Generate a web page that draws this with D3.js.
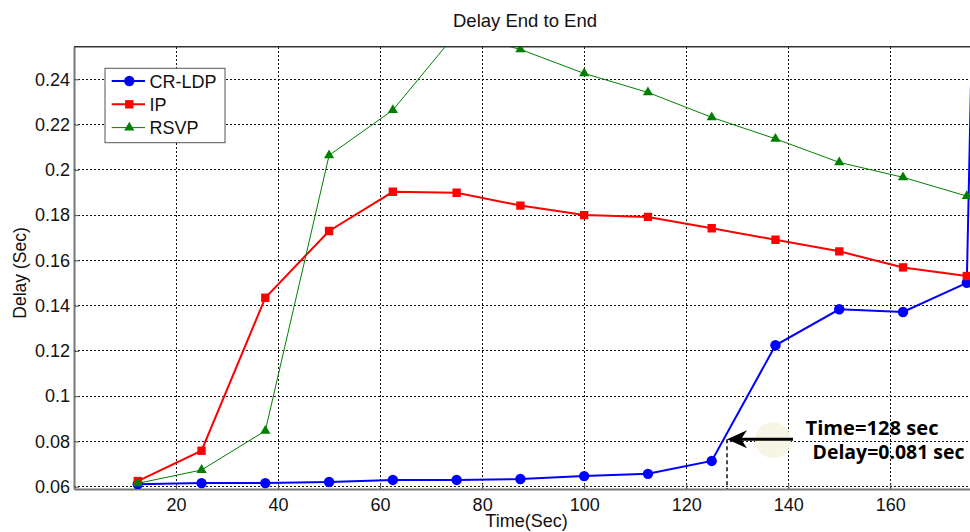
<!DOCTYPE html>
<html>
<head>
<meta charset="utf-8">
<script src="https://cdn.jsdelivr.net/npm/d3@7"></script>
<style>
  body { margin: 0; background: #fff; }
  svg { display: block; font-family: 'Liberation Sans', Arial, sans-serif; }
</style>
</head>
<body>
<div id="chart"></div>
<script>
const times = [12.5, 25, 37.5, 50, 62.5, 75, 87.5, 100, 112.5, 125, 137.5, 150, 162.5, 175]
// CR-LDP has one more sample just past the visible edge
const crldpTimes = times.concat([176.4])
const crldp = [0.0611, 0.0616, 0.0616, 0.0621, 0.063, 0.063, 0.0634, 0.0647, 0.0657, 0.0714, 0.1225, 0.1384, 0.1372, 0.1501, 0.30]
const ip = [0.0625, 0.0759, 0.1435, 0.173, 0.1903, 0.1899, 0.1842, 0.18, 0.1792, 0.1742, 0.1691, 0.164, 0.1569, 0.1531]
const rsvp = [0.0615, 0.0674, 0.0847, 0.2064, 0.2264, 0.2605, 0.2532, 0.2426, 0.2342, 0.2232, 0.2137, 0.2033, 0.1967, 0.1884]
const xTicks = [20, 40, 60, 80, 100, 120, 140, 160]
const yTicks = [0.06, 0.08, 0.1, 0.12, 0.14, 0.16, 0.18, 0.2, 0.22, 0.24]
const seriesNames = ['CR-LDP', 'IP', 'RSVP']
const annotation = { time: 128, delay: 0.081 }

const W = 970, H = 532
const plotLeft = 74, plotRight = 977, plotTop = 46.7, plotBottom = 489

const svg = d3.select('#chart').append('svg').attr('width', W).attr('height', H)

const x = d3.scaleLinear().domain([0, 177]).range([plotLeft, plotRight])
const y = d3.scaleLinear().domain([0.059, 0.2544]).range([plotBottom, plotTop])

svg.append('defs').append('clipPath').attr('id', 'plotclip')
  .append('rect').attr('x', plotLeft).attr('y', plotTop)
  .attr('width', plotRight - plotLeft).attr('height', plotBottom - plotTop)

// grid
const grid = svg.append('g').attr('shape-rendering', 'crispEdges')
grid.selectAll('.gx').data(xTicks).join('line')
  .attr('x1', d => x(d)).attr('x2', d => x(d)).attr('y1', plotTop).attr('y2', plotBottom)
  .attr('stroke', '#111').attr('stroke-width', 1).attr('stroke-dasharray', '2,2')
grid.selectAll('.gy').data(yTicks).join('line')
  .attr('x1', plotLeft).attr('x2', plotRight).attr('y1', d => y(d)).attr('y2', d => y(d))
  .attr('stroke', '#111').attr('stroke-width', 1).attr('stroke-dasharray', '2,2')

// axes
const yAxis = svg.append('g').attr('transform', `translate(${plotLeft},0)`)
  .call(d3.axisLeft(y).tickValues(yTicks).tickFormat(d3.format('')).tickSizeInner(-5).tickSizeOuter(0).tickPadding(4))
const xAxis = svg.append('g').attr('transform', `translate(0,${plotBottom})`)
  .call(d3.axisBottom(x).tickValues(xTicks).tickSizeInner(-5).tickSizeOuter(0).tickPadding(9))
;[yAxis, xAxis].forEach(a => {
  a.select('.domain').attr('stroke', '#777').attr('stroke-width', 2)
  a.selectAll('.tick line').attr('stroke', '#555')
  a.selectAll('.tick text').attr('fill', '#111').style('font-size', '18px')
    .style('font-family', "'Liberation Sans', Arial, sans-serif")
})
svg.append('line').attr('x1', plotLeft).attr('x2', W).attr('y1', plotTop).attr('y2', plotTop)
  .attr('stroke', '#333').attr('stroke-width', 1.5)

// series
const plot = svg.append('g').attr('clip-path', 'url(#plotclip)')
const series = [
  { name: seriesNames[0], t: crldpTimes, v: crldp, color: '#0000ff', width: 2, marker: 'circle' },
  { name: seriesNames[1], t: times, v: ip, color: '#ff0000', width: 2, marker: 'square' },
  { name: seriesNames[2], t: times, v: rsvp, color: '#008000', width: 1, marker: 'triangle' },
]
const line = d3.line().x(d => x(d[0])).y(d => y(d[1]))
const symbolFor = m => m === 'circle' ? d3.symbol(d3.symbolCircle, 85)
  : m === 'square' ? d3.symbol(d3.symbolSquare, 70) : d3.symbol(d3.symbolTriangle, 45)

series.forEach(s => {
  const pts = s.t.map((t, i) => [t, s.v[i]])
  plot.append('path').datum(pts).attr('d', line)
    .attr('fill', 'none').attr('stroke', s.color).attr('stroke-width', s.width)
  plot.selectAll(null).data(pts).join('path')
    .attr('transform', d => `translate(${x(d[0])},${y(d[1])})`)
    .attr('d', symbolFor(s.marker))
    .attr('fill', s.color)
})

// legend
const lg = svg.append('g')
lg.append('rect').attr('x', 105).attr('y', 68.3).attr('width', 120).attr('height', 74.4)
  .attr('fill', '#fff').attr('stroke', '#555').attr('stroke-width', 1)
series.forEach((s, i) => {
  const ly = 81 + i * 23.3
  lg.append('line').attr('x1', 111.7).attr('x2', 145).attr('y1', ly).attr('y2', ly)
    .attr('stroke', s.color).attr('stroke-width', s.width)
  lg.append('path').attr('transform', `translate(129.3,${ly})`).attr('d', symbolFor(s.marker)).attr('fill', s.color)
  lg.append('text').attr('x', 149.5).attr('y', ly + 6.5).text(s.name)
    .style('font-size', '18px').attr('fill', '#111')
})

// titles
svg.append('text').attr('x', 525).attr('y', 27).attr('text-anchor', 'middle')
  .style('font-size', '18.5px').attr('fill', '#111').text('Delay End to End')
svg.append('text').attr('x', 526.5).attr('y', 527).attr('text-anchor', 'middle')
  .style('font-size', '18px').attr('fill', '#111').text('Time(Sec)')
svg.append('text').attr('transform', 'translate(25.5,273) rotate(-90)').attr('text-anchor', 'middle')
  .style('font-size', '17.5px').attr('fill', '#111').text('Delay (Sec)')

// annotation
const ax = x(annotation.time), ay = y(annotation.delay)
svg.append('circle').attr('cx', ax + 46).attr('cy', ay + 1).attr('r', 18).attr('fill', '#f6f5e6')
svg.append('line').attr('x1', ax).attr('x2', ax).attr('y1', ay).attr('y2', plotBottom)
  .attr('stroke', '#111').attr('stroke-width', 1.5).attr('stroke-dasharray', '4,3')
svg.append('line').attr('x1', ax + 8).attr('x2', ax + 66).attr('y1', ay).attr('y2', ay)
  .attr('stroke', '#000').attr('stroke-width', 3)
svg.append('path')
  .attr('d', `M${ax},${ay} L${ax + 20},${ay - 9} L${ax + 14},${ay} L${ax + 20},${ay + 9} Z`)
  .attr('fill', '#000')
svg.append('text').attr('x', 805.5).attr('y', 435).attr('textLength', 133).attr('lengthAdjust', 'spacingAndGlyphs')
  .style('font-family', "'Open Sans', 'Noto Sans', sans-serif").style('font-weight', 'bold').style('font-size', '19px')
  .attr('fill', '#000').text(`Time=${annotation.time} sec`)
svg.append('text').attr('x', 812.5).attr('y', 458.5).attr('textLength', 152).attr('lengthAdjust', 'spacingAndGlyphs')
  .style('font-family', "'Open Sans', 'Noto Sans', sans-serif").style('font-weight', 'bold').style('font-size', '19px')
  .attr('fill', '#000').text(`Delay=${annotation.delay} sec`)
</script>
</body>
</html>
